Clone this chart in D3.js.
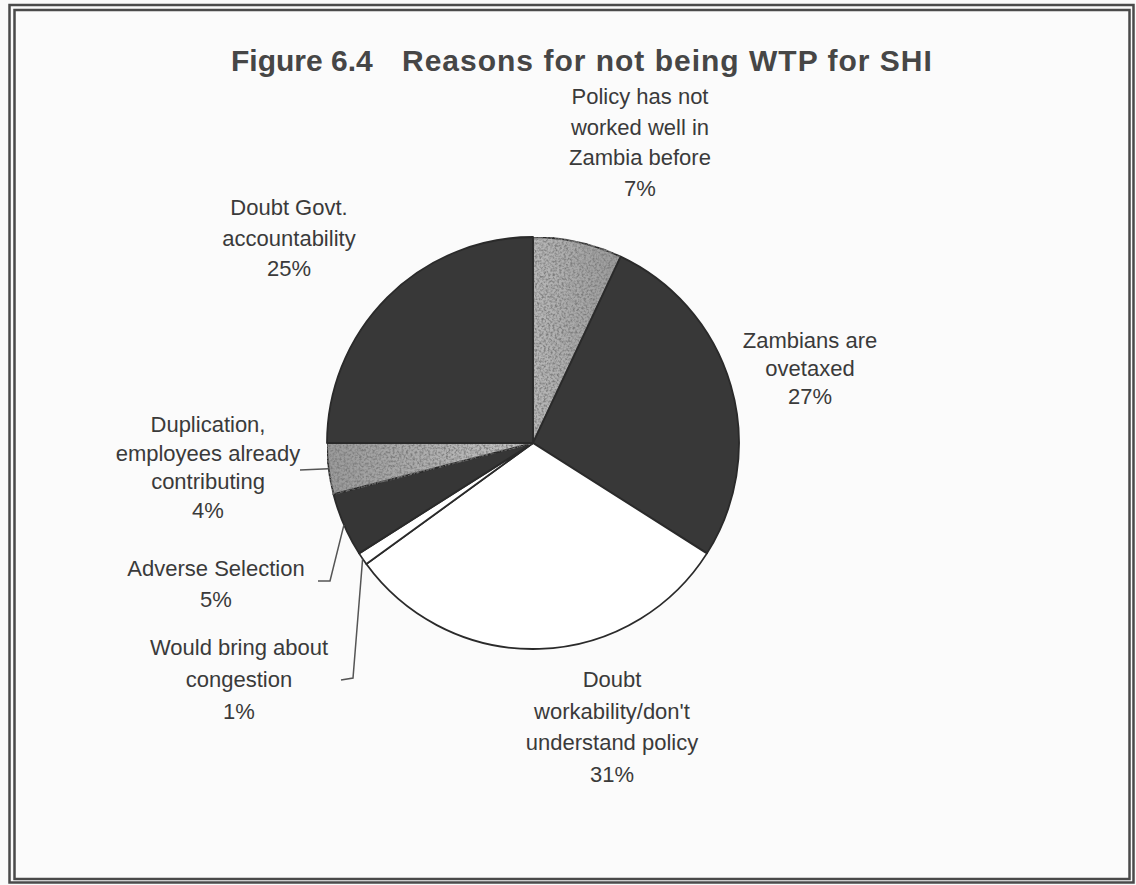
<!DOCTYPE html>
<html>
<head>
<meta charset="utf-8">
<script src="https://cdn.jsdelivr.net/npm/d3@7"></script>
<style>
    body { margin: 0; background: #fafafa; }
    svg { display: block; }
</style>
</head>
<body>
<div id="chart"></div>
<script>
// data
const categories = [
    'Policy has not worked well in Zambia before',
    'Zambians are ovetaxed',
    "Doubt workability/don't understand policy",
    'Would bring about congestion',
    'Adverse Selection',
    'Duplication, employees already contributing',
    'Doubt Govt. accountability',
];
const values = [7, 27, 31, 1, 5, 4, 25];
const labelLines = [
    ['Policy has not', 'worked well in', 'Zambia before'],
    ['Zambians are', 'ovetaxed'],
    ['Doubt', "workability/don't", 'understand policy'],
    ['Would bring about', 'congestion'],
    ['Adverse Selection'],
    ['Duplication,', 'employees already', 'contributing'],
    ['Doubt Govt.', 'accountability'],
];

// styling / layout, kept apart from the data
const sliceFills = ['url(#tex1)', '#383838', '#ffffff', '#ffffff', '#363636', 'url(#tex2)', '#383838'];
const labelLayout = [
    { x: 640, y: 96, lh: 30.5 },
    { x: 810, y: 340, lh: 28 },
    { x: 612, y: 679, lh: 31.5 },
    { x: 239, y: 647, lh: 32 },
    { x: 216, y: 568, lh: 31 },
    { x: 208, y: 424, lh: 28.5 },
    { x: 289, y: 207, lh: 30.5 },
];
// elbow points of the leader lines (only the small slices have one)
const leaderBends = [null, null, null, [[353, 678], [341, 680]], [[330, 581], [318, 581]], [[300, 470]], null];

const width = 1136;
const height = 885;
const cx = 533;
const cy = 443;
const radius = 206;

const svg = d3
    .select('#chart')
    .append('svg')
    .attr('width', width)
    .attr('height', height);

const defs = svg.append('defs');

// speckled grey texture for the two patterned slices
function textureFilter(id, seed) {
    const f = defs
        .append('filter')
        .attr('id', id + 'f')
        .attr('x', 0)
        .attr('y', 0)
        .attr('width', 1)
        .attr('height', 1);
    f.append('feTurbulence')
        .attr('type', 'fractalNoise')
        .attr('baseFrequency', 0.45)
        .attr('numOctaves', 2)
        .attr('seed', seed)
        .attr('result', 'noise');
    f.append('feColorMatrix')
        .attr('in', 'noise')
        .attr('type', 'matrix')
        .attr('values', '0 0 0 0 0.2  0 0 0 0 0.2  0 0 0 0 0.2  0 0 0 -2.4 1.5')
        .attr('result', 'dots');
    f.append('feComposite')
        .attr('in', 'dots')
        .attr('in2', 'SourceGraphic')
        .attr('operator', 'atop');
}
textureFilter('tex1', 3);
textureFilter('tex2', 7);

const g1 = defs
    .append('linearGradient')
    .attr('id', 'tex1g')
    .attr('x1', 0).attr('x2', 1).attr('y1', 0).attr('y2', 0);
g1.append('stop').attr('offset', '0%').attr('stop-color', '#b8b8b8');
g1.append('stop').attr('offset', '100%').attr('stop-color', '#9a9a9a');

const g2 = defs
    .append('linearGradient')
    .attr('id', 'tex2g')
    .attr('x1', 0).attr('x2', 1).attr('y1', 0).attr('y2', 0);
g2.append('stop').attr('offset', '0%').attr('stop-color', '#9a9a9a');
g2.append('stop').attr('offset', '100%').attr('stop-color', '#c4c4c4');

// frame (double border)
svg.append('rect')
    .attr('x', 9.5).attr('y', 5)
    .attr('width', 1124).attr('height', 877.5)
    .attr('fill', 'none')
    .attr('stroke', '#4a4a4a')
    .attr('stroke-width', 2.5);
svg.append('rect')
    .attr('x', 14.5).attr('y', 10)
    .attr('width', 1115).attr('height', 869)
    .attr('fill', '#fbfbfb')
    .attr('stroke', '#4a4a4a')
    .attr('stroke-width', 2.5);

// title
const title = svg.append('g')
    .attr('font-family', 'Liberation Sans, Arial, sans-serif')
    .attr('font-weight', 'bold')
    .attr('font-size', '30px')
    .attr('fill', '#464646');
title.append('text').attr('x', 231).attr('y', 71).text('Figure 6.4');
title.append('text')
    .attr('x', 402)
    .attr('y', 71)
    .attr('letter-spacing', '1px')
    .text('Reasons for not being WTP for SHI');

const pie = d3.pie().sort(null).value((d) => d);
const arcs = pie(values);
const arc = d3.arc().innerRadius(0).outerRadius(radius);
const rim = d3.arc().innerRadius(radius).outerRadius(radius);

const pieG = svg.append('g').attr('transform', `translate(${cx}, ${cy})`);

pieG.selectAll('path.slice')
    .data(arcs)
    .join('path')
    .attr('class', 'slice')
    .attr('d', arc)
    .attr('fill', (d, i) => {
        const f = sliceFills[i];
        return f.startsWith('url') ? `url(#${f.slice(5, -1)}g)` : f;
    })
    .attr('filter', (d, i) =>
        sliceFills[i].startsWith('url') ? `url(#${sliceFills[i].slice(5, -1)}f)` : null
    )
    .attr('stroke', '#2a2a2a')
    .attr('stroke-width', 1.8)
    .attr('stroke-linejoin', 'round');

// leader lines
const leaderLine = d3.line();
arcs.forEach((d, i) => {
    if (!leaderBends[i]) return;
    const [px, py] = rim.centroid(d);
    const pts = [[px + cx, py + cy], ...leaderBends[i]];
    svg.append('path')
        .attr('d', leaderLine(pts))
        .attr('fill', 'none')
        .attr('stroke', '#555')
        .attr('stroke-width', 1.5);
});

// labels
const labels = svg.append('g')
    .attr('font-family', 'Liberation Sans, Arial, sans-serif')
    .attr('font-size', '22px')
    .attr('fill', '#3a3a3a')
    .attr('text-anchor', 'middle');

labels.selectAll('text')
    .data(arcs)
    .join('text')
    .attr('x', (d, i) => labelLayout[i].x)
    .attr('y', (d, i) => labelLayout[i].y)
    .attr('dominant-baseline', 'central')
    .each(function (d, i) {
        const lines = [...labelLines[i], d.data + '%'];
        d3.select(this)
            .selectAll('tspan')
            .data(lines)
            .join('tspan')
            .attr('x', labelLayout[i].x)
            .attr('dy', (_, j) => (j === 0 ? 0 : labelLayout[i].lh))
            .text((t) => t);
    });
</script>
</body>
</html>
